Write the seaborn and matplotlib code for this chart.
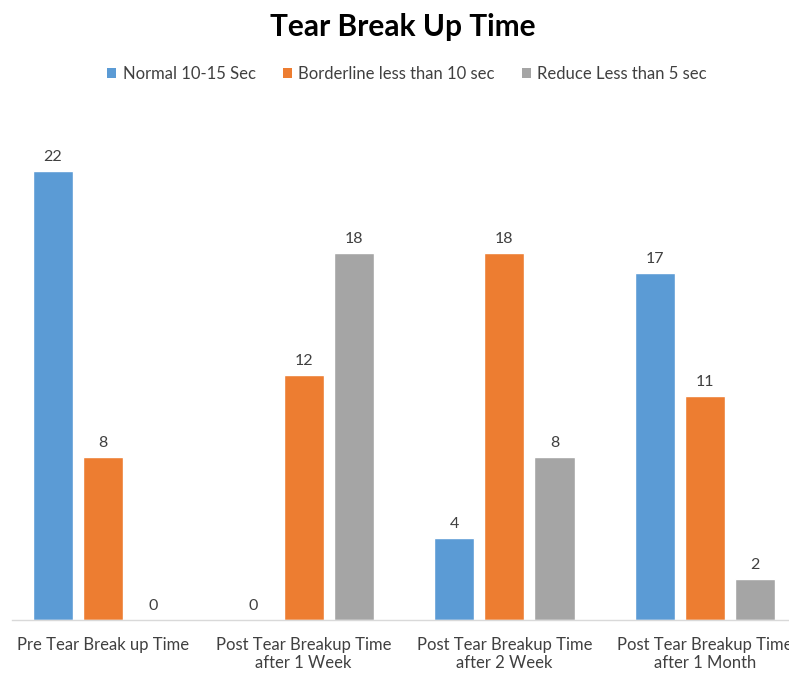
import matplotlib
matplotlib.use("Agg")
import matplotlib.pyplot as plt
import seaborn as sns
import pandas as pd
from matplotlib.patches import Patch

categories = ["Pre Tear Break up Time", "Post Tear Breakup Time\nafter 1 Week",
              "Post Tear Breakup Time\nafter 2 Week", "Post Tear Breakup Time\nafter 1 Month"]
series_names = ["Normal 10-15 Sec", "Borderline less than 10 sec", "Reduce Less than 5 sec"]
normal = [22, 0, 4, 17]
borderline = [8, 12, 18, 11]
reduce_ = [0, 18, 8, 2]
colors = ["#5B9BD5", "#ED7D31", "#A5A5A5"]

rows = []
for name, vals in zip(series_names, [normal, borderline, reduce_]):
    for c, v in zip(categories, vals):
        rows.append({"cat": c, "series": name, "value": v})
df = pd.DataFrame(rows)

sns.set_theme(style="white")
plt.rcParams['font.family'] = ['Lato', 'DejaVu Sans']

W, H = 789, 673
fig = plt.figure(figsize=(W / 100, H / 100), dpi=100)
left_px, right_px = 12, 789
bottom_px, top_px = 620, 120
ax = fig.add_axes([left_px / W, 1 - bottom_px / H, (right_px - left_px) / W, (bottom_px - top_px) / H])

sns.barplot(data=df, x="cat", y="value", hue="series", palette=colors, width=0.75, gap=0.2,
            ax=ax, legend=False, saturation=1)

ppu_x = (705 - 103) / 3
ax.set_xlim(-(103 - left_px) / ppu_x, 3 + (right_px - 705) / ppu_x)
ppu_y = (620 - 171) / 22
ax.set_ylim(0, (bottom_px - top_px) / ppu_y)

for cont in ax.containers:
    ax.bar_label(cont, fmt="%d", padding=5, fontsize=11.5, color="#404040", clip_on=False)

for s in ["top", "right", "left"]:
    ax.spines[s].set_visible(False)
ax.spines["bottom"].set_color("#D9D9D9")
ax.spines["bottom"].set_linewidth(1)
ax.set_yticks([])
ax.set_xlabel("")
ax.set_ylabel("")
ax.tick_params(axis="x", length=0, pad=12, labelsize=12, labelcolor="#404040")
for t in ax.get_xticklabels():
    t.set_clip_on(False)

fig.text(403 / W, 1 - 27 / H, "Tear Break Up Time", ha="center", va="center",
         fontsize=21.5, fontweight="bold", color="black")

handles = [Patch(facecolor=c, edgecolor="none") for c in colors]
fig.legend(handles, series_names, loc="center", bbox_to_anchor=(407 / W, 1 - 74 / H), ncol=3,
           frameon=False, fontsize=12, handlelength=0.55, handleheight=0.55, handletextpad=0.4,
           columnspacing=1.6, labelcolor="#404040")

fig.savefig("out.png", dpi=100)
